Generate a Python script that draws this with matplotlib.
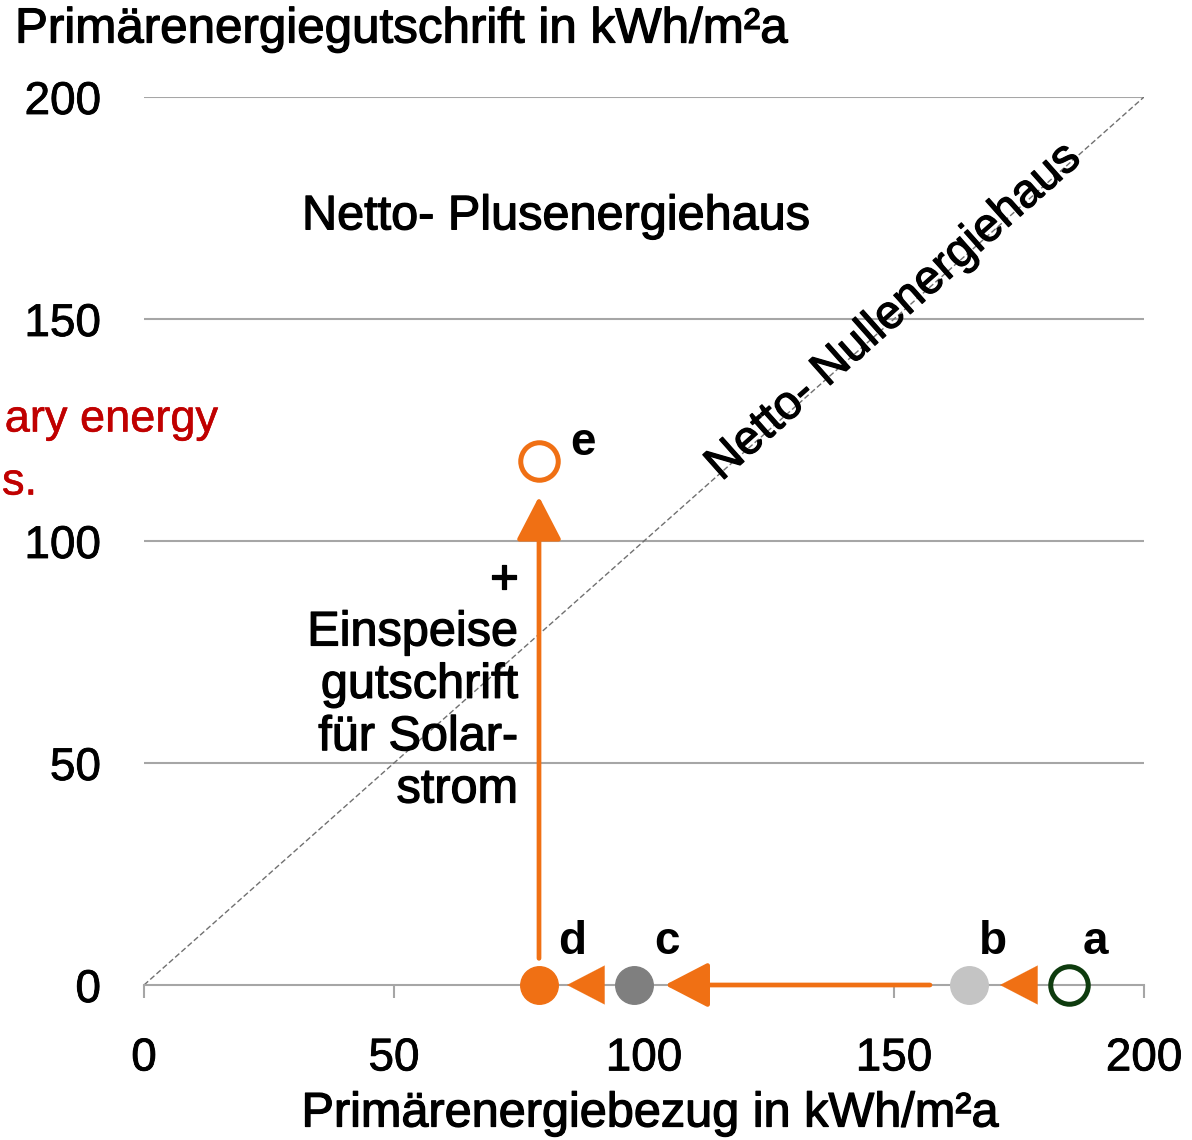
import matplotlib
matplotlib.use("Agg")
import matplotlib.pyplot as plt
from matplotlib.patches import FancyArrowPatch
import matplotlib.patheffects as pe

plt.rcParams['font.family'] = ['Liberation Sans', 'DejaVu Sans']

# data
labels = ['a', 'b', 'c', 'd', 'e']
bezug = [185, 165, 98, 79, 79]          # Primärenergiebezug
gutschrift = [0, 0, 0, 0, 118]          # Primärenergiegutschrift
x_ticks = [0, 50, 100, 150, 200]
y_ticks = [0, 50, 100, 150, 200]

# arrows: (x_start, y_start, x_end, y_end)
arrow_x0 = [178.2, 157.2, 92.0, 79]
arrow_y0 = [0, 0, 0, 6]
arrow_x1 = [171.2, 104.2, 84.6, 79]
arrow_y1 = [0, 0, 0, 110]
arrow_shaft = [False, True, False, True]

ORANGE = '#F07014'
face = ['none', '#C4C4C4', '#7F7F7F', ORANGE, 'none']
edge = ['#0E3B0E', '#C4C4C4', '#7F7F7F', ORANGE, ORANGE]
label_off = [(19, 31), (17, 31), (24, 31), (24, 31), (32, 13)]

BOLDISH = [pe.withStroke(linewidth=0.9, foreground='black')]

fig = plt.figure(figsize=(11.92, 11.40), dpi=100)
ax = fig.add_axes([144/1192, 155/1140, 1000/1192, 888/1140])
ax.set_xlim(0, 200)
ax.set_ylim(0, 200)
for s in ['top', 'right', 'left']:
    ax.spines[s].set_visible(False)
ax.spines['bottom'].set_color('#A6A6A6')
ax.spines['bottom'].set_linewidth(1.5)
ax.spines['bottom'].set_zorder(1)
ax.set_xticks(x_ticks)
ax.set_yticks(y_ticks)
ax.tick_params(axis='x', direction='out', length=9, width=1.5, color='#A6A6A6',
               labelsize=33, pad=28)
ax.tick_params(axis='y', length=0, labelsize=33, pad=31)
for lab in ax.get_xticklabels() + ax.get_yticklabels():
    lab.set_path_effects([pe.withStroke(linewidth=0.6, foreground='black')])
for yv in y_ticks[1:]:
    ax.axhline(yv, color='#A6A6A6', lw=1.5, zorder=1)

# diagonal
ax.plot([0, 200], [0, 200], color='#707070', lw=1.0, ls=(0, (4, 2)), zorder=1)

# arrows
for x0, y0, x1, y1, sh in zip(arrow_x0, arrow_y0, arrow_x1, arrow_y1, arrow_shaft):
    arr = FancyArrowPatch((x0, y0), (x1, y1),
                          arrowstyle='-|>,head_length=27,head_width=14',
                          mutation_scale=1, color=ORANGE,
                          lw=3.4 if sh else 0.1, shrinkA=0, shrinkB=0,
                          zorder=3, clip_on=False)
    ax.add_patch(arr)

# points
for x, y, f, e in zip(bezug, gutschrift, face, edge):
    ax.plot([x], [y], 'o', ms=27, mfc=f, mec=e, mew=3.6 if f == 'none' else 1,
            zorder=4, clip_on=False)
for lab, x, y, off in zip(labels, bezug, gutschrift, label_off):
    ax.annotate(lab, (x, y), xytext=off, textcoords='offset points',
                ha='center', va='center', fontsize=33, fontweight='bold')

# texts
ax.text(82.4, 173, 'Netto- Plusenergiehaus', fontsize=35, ha='center', va='center',
        path_effects=BOLDISH)
ax.text(74.8, 67.5, '+\nEinspeise\ngutschrift\nfür Solar-\nstrom', fontsize=35,
        ha='right', va='center', multialignment='right', linespacing=1.21,
        path_effects=BOLDISH)
ax.text(150, 151.5, 'Netto- Nullenergiehaus', fontsize=34, ha='center', va='center',
        rotation=41.6, rotation_mode='anchor', path_effects=BOLDISH)

fig.text(15/1192, 1 - 30/1140, 'Primärenergiegutschrift in kWh/m²a', fontsize=35.5,
         ha='left', va='center', path_effects=BOLDISH)
fig.text(650/1192, 1 - 1114/1140, 'Primärenergiebezug in kWh/m²a', fontsize=35,
         ha='center', va='center', path_effects=BOLDISH)
red_fx = [pe.withStroke(linewidth=0.4, foreground='#C00000')]
fig.text(218/1192, 1 - 420/1140, 'ary energy', fontsize=32.5, color='#C00000',
         ha='right', va='center', path_effects=red_fx)
fig.text(2/1192, 1 - 483/1140, 's.', fontsize=32.5, color='#C00000',
         ha='left', va='center', path_effects=red_fx)

fig.savefig('out.png', dpi=100)
